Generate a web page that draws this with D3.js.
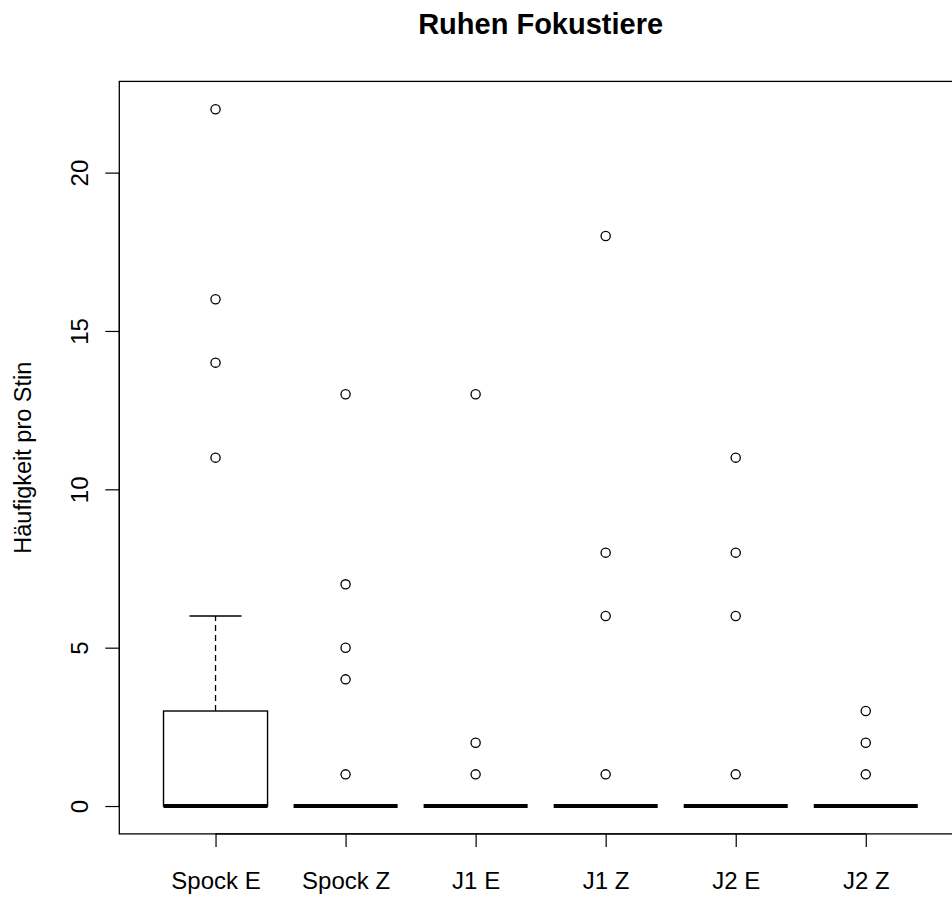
<!DOCTYPE html>
<html>
<head>
<meta charset="utf-8">
<script src="https://cdn.jsdelivr.net/npm/d3@7"></script>
<style>
  html, body { margin: 0; padding: 0; background: #fff; }
  svg { display: block; }
  text { font-family: "Liberation Sans", Arial, sans-serif; fill: #000; }
</style>
</head>
<body>
<script>
// Boxplot summary per group
const categories   = ["Spock E", "Spock Z", "J1 E", "J1 Z", "J2 E", "J2 Z"];
const whiskerLow   = [0, 0, 0, 0, 0, 0];
const quartile1    = [0, 0, 0, 0, 0, 0];
const medians      = [0, 0, 0, 0, 0, 0];
const quartile3    = [3, 0, 0, 0, 0, 0];
const whiskerHigh  = [6, 0, 0, 0, 0, 0];
const outliers     = [
  [11, 14, 16, 22],
  [1, 4, 5, 7, 13],
  [1, 2, 13],
  [1, 6, 8, 18],
  [1, 6, 8, 11],
  [1, 2, 3]
];
const yTicks = [0, 5, 10, 15, 20];

const W = 952, H = 897;
const svg = d3.select("body").append("svg").attr("width", W).attr("height", H);

const plotLeft = 119.3, plotRight = 962, plotTop = 81.4, plotBottom = 833.9;
const n = categories.length;

// R-style padded ranges
const x = d3.scaleLinear().domain([0.26, n + 0.74]).range([plotLeft, plotRight]);
const y = d3.scaleLinear().domain([-0.88, 22.88]).range([plotBottom, plotTop]);

const boxW = (x(1) - x(0)) * 0.8;

// Frame
svg.append("rect")
  .attr("x", plotLeft).attr("y", plotTop)
  .attr("width", plotRight - plotLeft).attr("height", plotBottom - plotTop)
  .attr("fill", "none").attr("stroke", "#000").attr("stroke-width", 1.3);

// Y axis
const yAxis = svg.append("g").attr("transform", `translate(${plotLeft},0)`)
  .call(d3.axisLeft(y).tickValues(yTicks).tickSize(14).tickSizeOuter(0).tickFormat(d3.format("d")));
yAxis.select(".domain")
  .attr("d", `M0,${y(yTicks[0])}V${y(yTicks[yTicks.length - 1])}`)
  .attr("stroke-width", 1.2);
yAxis.selectAll(".tick line").attr("stroke-width", 1.2);
yAxis.selectAll(".tick text")
  .attr("font-size", 24)
  .attr("font-family", "Liberation Sans, Arial, sans-serif")
  .attr("fill", "#000")
  .attr("text-anchor", "middle")
  .attr("x", null).attr("dy", null)
  .attr("transform", "translate(-31.5,0) rotate(-90)");

// X axis
const xAxis = svg.append("g").attr("transform", `translate(0,${plotBottom})`)
  .call(d3.axisBottom(x).tickValues(d3.range(1, n + 1)).tickSize(13).tickSizeOuter(0)
    .tickFormat(i => categories[i - 1]));
xAxis.select(".domain")
  .attr("d", `M${x(1)},0H${x(n)}`)
  .attr("stroke-width", 1.2);
xAxis.selectAll(".tick line").attr("stroke-width", 1.2);
xAxis.selectAll(".tick text")
  .attr("font-size", 24)
  .attr("font-family", "Liberation Sans, Arial, sans-serif")
  .attr("fill", "#000")
  .attr("dy", null)
  .attr("y", 55.5);

// Boxes
const groups = svg.append("g").selectAll("g")
  .data(categories.map((c, i) => ({
    c, i, lo: whiskerLow[i], q1: quartile1[i], med: medians[i],
    q3: quartile3[i], hi: whiskerHigh[i], out: outliers[i]
  })))
  .join("g");

groups.each(function(d) {
  const g = d3.select(this);
  const cx = x(d.i + 1);
  // whiskers
  if (d.hi > d.q3) {
    g.append("line").attr("x1", cx).attr("x2", cx)
      .attr("y1", y(d.q3)).attr("y2", y(d.hi))
      .attr("stroke", "#000").attr("stroke-width", 1.3).attr("stroke-dasharray", "6,4");
    g.append("line").attr("x1", cx - boxW / 4).attr("x2", cx + boxW / 4)
      .attr("y1", y(d.hi)).attr("y2", y(d.hi))
      .attr("stroke", "#000").attr("stroke-width", 1.4);
  }
  if (d.lo < d.q1) {
    g.append("line").attr("x1", cx).attr("x2", cx)
      .attr("y1", y(d.q1)).attr("y2", y(d.lo))
      .attr("stroke", "#000").attr("stroke-width", 1.3).attr("stroke-dasharray", "6,4");
    g.append("line").attr("x1", cx - boxW / 4).attr("x2", cx + boxW / 4)
      .attr("y1", y(d.lo)).attr("y2", y(d.lo))
      .attr("stroke", "#000").attr("stroke-width", 1.4);
  }
  // box
  if (d.q3 > d.q1) {
    g.append("rect")
      .attr("x", cx - boxW / 2).attr("width", boxW)
      .attr("y", y(d.q3)).attr("height", y(d.q1) - y(d.q3))
      .attr("fill", "none").attr("stroke", "#000").attr("stroke-width", 1.4);
  }
  // median
  g.append("line").attr("x1", cx - boxW / 2).attr("x2", cx + boxW / 2)
    .attr("y1", y(d.med)).attr("y2", y(d.med))
    .attr("stroke", "#000").attr("stroke-width", 4);
  // outliers
  g.selectAll("circle").data(d.out).join("circle")
    .attr("cx", cx).attr("cy", v => y(v)).attr("r", 4.6)
    .attr("fill", "none").attr("stroke", "#000").attr("stroke-width", 1.3);
});

// Title
svg.append("text")
  .attr("x", (plotLeft + plotRight) / 2).attr("y", 34)
  .attr("text-anchor", "middle")
  .attr("font-size", 29).attr("font-weight", "bold")
  .text("Ruhen Fokustiere");

// Y label
svg.append("text")
  .attr("transform", `translate(31,${(plotTop + plotBottom) / 2}) rotate(-90)`)
  .attr("text-anchor", "middle")
  .attr("font-size", 23.5)
  .text("Häufigkeit pro Stin");
</script>
</body>
</html>
